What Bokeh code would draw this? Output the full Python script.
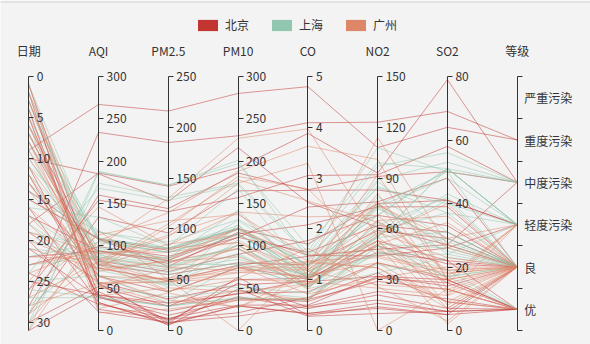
from bokeh.plotting import figure
from bokeh.models import Range1d, LinearAxis, FixedTicker, Legend, LegendItem, Span
from bokeh.embed import file_html
from bokeh.resources import INLINE
from bokeh.core.properties import value

# ---------------- data ----------------
DIMS = ["日期", "AQI", "PM2.5", "PM10", "CO", "NO2", "SO2", "等级"]
LEVELS = ["优", "良", "轻度污染", "中度污染", "重度污染", "严重污染"]
CITIES = ["北京", "上海", "广州"]
COLORS = ["#c23531", "#91c7ae", "#dd8668"]

DAYS = [1, 2, 3, 4, 5, 6, 7, 8, 9, 10, 11, 12, 13, 14, 15, 16, 17, 18, 19, 20,
        21, 22, 23, 24, 25, 26, 27, 28, 29, 30, 31]

BJ_AQI = [55, 25, 56, 33, 42, 82, 74, 78, 267, 185, 39, 41, 64, 108, 108, 33, 94, 186, 57, 22, 39, 94, 99, 31, 42, 154, 234, 160, 134, 52, 46]
BJ_PM25 = [9, 11, 7, 7, 24, 58, 49, 55, 216, 127, 19, 11, 38, 79, 63, 6, 66, 142, 31, 8, 15, 69, 73, 12, 27, 117, 185, 120, 96, 24, 5]
BJ_PM10 = [56, 21, 63, 29, 44, 90, 77, 80, 280, 216, 38, 40, 74, 120, 116, 29, 110, 192, 54, 17, 36, 114, 110, 30, 43, 157, 230, 186, 165, 60, 49]
BJ_CO = [0.46, 0.65, 0.3, 0.33, 0.76, 1.77, 1.46, 1.29, 4.8, 2.52, 0.57, 0.43, 1.04, 1.7, 1.48, 0.34, 1.54, 3.88, 0.96, 0.48, 0.61, 2.08, 2.43, 0.5, 1, 3.05, 4.09, 2.77, 2.76, 1.03, 0.28]
BJ_NO2 = [18, 34, 14, 16, 40, 68, 48, 59, 108, 61, 31, 21, 46, 75, 44, 13, 62, 93, 32, 23, 29, 73, 76, 32, 53, 92, 123, 91, 83, 50, 10]
BJ_SO2 = [6, 9, 5, 6, 16, 33, 27, 29, 64, 27, 15, 7, 22, 41, 26, 5, 31, 79, 14, 10, 13, 39, 48, 16, 22, 58, 69, 50, 41, 21, 6]
BJ_LEVEL = ["良", "优", "良", "优", "优", "良", "良", "良", "重度污染", "中度污染", "优", "优", "良", "轻度污染", "轻度污染", "优",
            "良", "中度污染", "良", "优", "优", "良", "良", "优", "优", "中度污染", "重度污染", "中度污染", "轻度污染", "良", "优"]

SH_AQI = [91, 65, 83, 109, 106, 109, 106, 89, 53, 80, 117, 99, 95, 116, 108, 134, 79, 71, 97, 84, 87, 104, 87, 168, 65, 39, 39, 93, 188, 174, 187]
SH_PM25 = [45, 27, 60, 81, 77, 81, 77, 65, 33, 55, 81, 71, 69, 87, 80, 83, 43, 46, 71, 57, 63, 77, 62, 128, 45, 24, 24, 68, 143, 131, 143]
SH_PM10 = [125, 78, 84, 121, 114, 121, 114, 78, 47, 80, 124, 142, 130, 131, 121, 167, 107, 89, 113, 91, 101, 119, 100, 172, 51, 38, 39, 96, 197, 174, 201]
SH_CO = [0.82, 0.86, 1.09, 1.28, 1.07, 1.28, 1.07, 0.86, 0.64, 1.01, 1.03, 1.1, 1.28, 1.47, 1.3, 1.16, 1.05, 0.86, 1.17, 0.85, 0.9, 1.09, 1, 1.49, 0.74, 0.61, 0.59, 1.05, 1.66, 1.55, 1.39]
SH_NO2 = [34, 45, 73, 68, 55, 68, 55, 51, 50, 75, 45, 62, 74, 84, 85, 57, 59, 64, 88, 55, 56, 73, 72, 97, 39, 47, 50, 79, 99, 108, 89]
SH_SO2 = [23, 29, 27, 51, 51, 51, 51, 26, 17, 24, 24, 42, 50, 40, 37, 43, 37, 25, 31, 31, 41, 48, 28, 56, 17, 17, 19, 29, 51, 50, 53]
SH_LEVEL = ["良", "良", "良", "轻度污染", "轻度污染", "轻度污染", "轻度污染", "良", "良", "良", "轻度污染", "良", "良", "轻度污染", "轻度污染", "轻度污染",
            "良", "良", "良", "良", "良", "轻度污染", "良", "中度污染", "良", "优", "优", "良", "中度污染", "中度污染", "中度污染"]

GZ_AQI = [26, 85, 78, 21, 41, 56, 64, 55, 76, 91, 84, 64, 70, 77, 109, 73, 54, 51, 91, 73, 73, 84, 93, 99, 146, 113, 81, 56, 82, 106, 118]
GZ_PM25 = [37, 62, 38, 21, 42, 52, 30, 48, 85, 81, 39, 51, 69, 105, 68, 68, 27, 61, 71, 102, 50, 94, 77, 130, 84, 108, 48, 48, 92, 116, 50]
GZ_PM10 = [27, 71, 74, 36, 46, 69, 28, 74, 113, 104, 60, 101, 120, 178, 87, 97, 47, 97, 121, 182, 76, 140, 104, 227, 139, 137, 62, 68, 174, 188, 0]
GZ_CO = [1.163, 1.195, 1.363, 0.634, 0.915, 1.067, 0.924, 1.236, 1.237, 1.041, 0.964, 0.862, 1.198, 2.549, 0.996, 0.905, 0.592, 0.811, 1.374, 2.787, 0.717, 2.238, 1.165, 3.97, 1.094, 1.481, 1.619, 1.336, 3.29, 3.628, 1.383]
GZ_NO2 = [27, 60, 37, 40, 81, 92, 51, 75, 114, 56, 25, 58, 65, 64, 74, 51, 53, 65, 43, 44, 31, 68, 53, 55, 40, 48, 26, 37, 0, 101, 76]
GZ_SO2 = [13, 8, 7, 9, 13, 16, 2, 26, 27, 40, 11, 23, 36, 16, 29, 34, 12, 19, 18, 19, 20, 18, 7, 15, 17, 15, 3, 9, 13, 16, 11]
GZ_LEVEL = ["优", "良", "良", "优", "优", "良", "良", "良", "良", "良", "良", "良", "良", "良", "轻度污染", "良",
            "良", "良", "良", "良", "良", "良", "良", "良", "轻度污染", "轻度污染", "良", "良", "良", "轻度污染", "轻度污染"]

# axis extents (value at bottom, value at top) and ticks
AXIS_BOTTOM_TOP = [(31, 0), (0, 300), (0, 250), (0, 300), (0, 5), (0, 150), (0, 80)]
AXIS_TICKS = [
    [0, 5, 10, 15, 20, 25, 30],
    [0, 50, 100, 150, 200, 250, 300],
    [0, 50, 100, 150, 200, 250],
    [0, 50, 100, 150, 200, 250, 300],
    [0, 1, 2, 3, 4, 5],
    [0, 30, 60, 90, 120, 150],
    [0, 20, 40, 60, 80],
]

# ---------------- layout ----------------
W, H = 590, 344
BG = "#f3f3f3"
FONT = "Noto Sans CJK SC"
TEXT = "#333333"
AX_X0, AX_DX = 28.3, 69.77      # pixel x of first axis, spacing between axes
AX_TOP, AX_BOT = 76.0, 330.0    # pixel y of axis top / bottom
NAME_Y = 50.0                   # pixel y of axis names
SPAN = AX_BOT - AX_TOP
U_LO = (AX_BOT - H) / SPAN
U_HI = AX_BOT / SPAN


def u_of_px(py):
    return (AX_BOT - py) / SPAN


p = figure(width=W, height=H, output_backend="svg", toolbar_location=None,
           x_range=Range1d(-AX_X0 / AX_DX, (W - AX_X0) / AX_DX),
           y_range=Range1d(U_LO, U_HI),
           x_axis_type=None, y_axis_type=None, min_border=0,
           background_fill_color=BG, border_fill_color=BG, outline_line_color=None)

# top border line
p.add_layout(Span(location=u_of_px(1.5), dimension="width", line_color="#d2d2d2", line_width=1))


def norm(dim, v):
    lo, hi = AXIS_BOTTOM_TOP[dim]
    return (v - lo) / (hi - lo)


def city_lines(cols, levels):
    xs, ys = [], []
    for k in range(len(DAYS)):
        vals = [c[k] for c in cols]
        y = [norm(d, v) for d, v in enumerate(vals)]
        y.append((LEVELS.index(levels[k]) + 0.5) / len(LEVELS))
        xs.append(list(range(len(DIMS))))
        ys.append(y)
    return xs, ys


city_data = [
    ([DAYS, BJ_AQI, BJ_PM25, BJ_PM10, BJ_CO, BJ_NO2, BJ_SO2], BJ_LEVEL),
    ([DAYS, SH_AQI, SH_PM25, SH_PM10, SH_CO, SH_NO2, SH_SO2], SH_LEVEL),
    ([DAYS, GZ_AQI, GZ_PM25, GZ_PM10, GZ_CO, GZ_NO2, GZ_SO2], GZ_LEVEL),
]

legend_items = []
for (cols, levels), name, color in zip(city_data, CITIES, COLORS):
    xs, ys = city_lines(cols, levels)
    p.multi_line(xs=xs, ys=ys, line_color=color, line_alpha=0.5, line_width=1)
    # zero-size swatch carrier for the legend (draws nothing in the plot)
    swatch = p.rect(x=[0], y=[0], width=0, height=0, width_units="screen", height_units="screen",
                    fill_color=color, line_color=None)
    legend_items.append(LegendItem(label=name, renderers=[swatch]))

# numeric axes
for i, ((lo, hi), ticks) in enumerate(zip(AXIS_BOTTOM_TOP, AXIS_TICKS)):
    rname = "d%d" % i
    p.extra_y_ranges[rname] = Range1d(lo + U_LO * (hi - lo), lo + U_HI * (hi - lo))
    ax = LinearAxis(y_range_name=rname, fixed_location=i, ticker=FixedTicker(ticks=ticks),
                    bounds=(min(lo, hi), max(lo, hi)),
                    major_tick_in=0, major_tick_out=5, minor_tick_in=0, minor_tick_out=0,
                    axis_line_color=TEXT, major_tick_line_color=TEXT,
                    major_label_text_font=FONT, major_label_text_font_size="12px",
                    major_label_text_color=TEXT, major_label_standoff=3)
    p.add_layout(ax, "right")

# category axis (等级)
ci = len(DIMS) - 1
p.extra_y_ranges["lvl"] = Range1d(U_LO * len(LEVELS), U_HI * len(LEVELS))
ax_a = LinearAxis(y_range_name="lvl", fixed_location=ci,
                  ticker=FixedTicker(ticks=list(range(len(LEVELS) + 1))), bounds=(0, len(LEVELS)),
                  major_tick_in=0, major_tick_out=5, minor_tick_in=0, minor_tick_out=0,
                  axis_line_color=TEXT, major_tick_line_color=TEXT, major_label_text_alpha=0)
p.add_layout(ax_a, "right")
centers = [k + 0.5 for k in range(len(LEVELS))]
ax_b = LinearAxis(y_range_name="lvl", fixed_location=ci, ticker=FixedTicker(ticks=centers),
                  bounds=(0, len(LEVELS)),
                  major_tick_in=0, major_tick_out=0, minor_tick_in=0, minor_tick_out=0,
                  axis_line_alpha=0, major_label_overrides={c: l for c, l in zip(centers, LEVELS)},
                  major_label_text_font=FONT, major_label_text_font_size="12px",
                  major_label_text_color=TEXT, major_label_standoff=7)
p.add_layout(ax_b, "right")

# axis names
p.text(x=list(range(len(DIMS))), y=[u_of_px(NAME_Y)] * len(DIMS), text=DIMS,
       text_align="center", text_baseline="middle", text_font=value(FONT),
       text_font_size="12px", text_color=TEXT)

legend = Legend(items=legend_items, orientation="horizontal", location=(195, H - 33),
                glyph_width=25, glyph_height=14, label_height=14, label_standoff=5, spacing=20,
                padding=0, margin=0, border_line_alpha=0, background_fill_alpha=0,
                label_text_font=FONT, label_text_font_size="12px", label_text_color=TEXT)
p.add_layout(legend, "center")

open("out.html", "w").write(file_html(p, INLINE))
